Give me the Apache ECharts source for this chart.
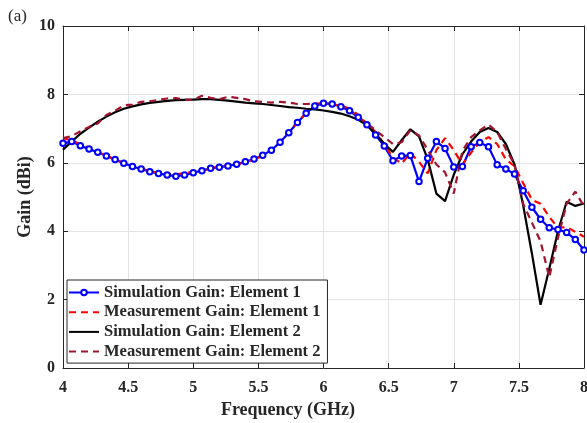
<!DOCTYPE html>
<html>
<head>
<meta charset="utf-8">
<script src="https://cdn.jsdelivr.net/npm/echarts@6/dist/echarts.min.js"></script>
<style>
  html, body { margin: 0; padding: 0; background: #fff; }
  #chart { width: 587px; height: 423px; }
</style>
</head>
<body>
<div id="chart"></div>
<script>
// Frequency grid: 4 to 8 GHz, 61 samples
const freqStart = 4;
const freqStep = 4 / 60;

// Gain (dBi) for each sample
const simElement1 = [6.57, 6.62, 6.50, 6.40, 6.31, 6.20, 6.10, 5.99, 5.89, 5.82,
  5.74, 5.69, 5.64, 5.61, 5.64, 5.71, 5.77, 5.84, 5.87, 5.91,
  5.96, 6.03, 6.11, 6.22, 6.37, 6.60, 6.88, 7.18, 7.45, 7.66,
  7.74, 7.72, 7.64, 7.52, 7.33, 7.11, 6.81, 6.49, 6.06, 6.20,
  6.21, 5.45, 6.13, 6.62, 6.42, 5.88, 5.89, 6.47, 6.59, 6.47,
  5.94, 5.82, 5.67, 5.18, 4.70, 4.35, 4.10, 4.05, 3.96, 3.76, 3.45];

const measElement1 = [6.72, 6.65, 6.55, 6.42, 6.30, 6.22, 6.08, 6.00, 5.88, 5.85,
  5.74, 5.72, 5.68, 5.66, 5.70, 5.73, 5.75, 5.85, 5.88, 5.93,
  5.95, 6.02, 6.10, 6.20, 6.40, 6.62, 6.90, 7.20, 7.45, 7.65,
  7.75, 7.70, 7.68, 7.58, 7.40, 7.15, 6.90, 6.55, 6.15, 5.98,
  6.28, 6.03, 5.69, 6.37, 6.72, 6.37, 5.95, 6.30, 6.60, 6.75,
  6.55, 6.10, 5.90, 5.40, 4.92, 4.80, 4.42, 4.10, 4.12, 3.98, 3.84];

const simElement2 = [6.38, 6.62, 6.85, 7.03, 7.20, 7.35, 7.48, 7.58, 7.65, 7.71,
  7.75, 7.78, 7.81, 7.83, 7.84, 7.85, 7.86, 7.86, 7.84, 7.82,
  7.79, 7.76, 7.74, 7.72, 7.69, 7.66, 7.63, 7.61, 7.58, 7.56,
  7.53, 7.49, 7.44, 7.36, 7.26, 7.10, 6.85, 6.55, 6.32, 6.66,
  6.98, 6.77, 6.10, 5.10, 4.88, 5.65, 6.25, 6.62, 6.90, 7.02,
  6.90, 6.55, 5.95, 4.75, 3.35, 1.85, 2.90, 4.00, 4.86, 4.74, 4.81];

const measElement2 = [6.72, 6.78, 6.92, 7.05, 7.15, 7.40, 7.52, 7.68, 7.70, 7.78,
  7.80, 7.84, 7.88, 7.89, 7.85, 7.84, 7.96, 7.90, 7.86, 7.93,
  7.90, 7.86, 7.80, 7.78, 7.76, 7.78, 7.76, 7.72, 7.72, 7.73,
  7.74, 7.72, 7.68, 7.55, 7.35, 7.15, 6.95, 6.75, 6.55, 6.60,
  6.95, 6.80, 6.38, 5.95, 5.72, 5.10, 6.35, 6.75, 6.95, 7.12,
  6.90, 6.40, 5.95, 4.80, 4.25, 3.70, 2.65, 3.80, 4.80, 5.16, 4.72];

// Axis ticks
const xTicks = [4, 4.5, 5, 5.5, 6, 6.5, 7, 7.5, 8];
const yTicks = [0, 2, 4, 6, 8, 10];

const seriesNames = [
  'Simulation Gain: Element 1',
  'Measurement Gain: Element 1',
  'Simulation Gain: Element 2',
  'Measurement Gain: Element 2'
];

function pairs(values) {
  return values.map((v, i) => [freqStart + i * freqStep, v]);
}

const serif = '"Liberation Serif", "DejaVu Serif", serif';
const ink = '#262626';

const chart = echarts.init(document.getElementById('chart'), null, { renderer: 'canvas' });

const xBase = {
  type: 'value', min: xTicks[0], max: xTicks[xTicks.length - 1], interval: 0.5,
  axisLine: { show: true, onZero: false, lineStyle: { color: ink, width: 1 } },
  axisTick: { show: true, inside: true, length: 5, lineStyle: { color: ink } }
};
const yBase = {
  type: 'value', min: yTicks[0], max: yTicks[yTicks.length - 1], interval: 2,
  axisLine: { show: true, onZero: false, lineStyle: { color: ink, width: 1 } },
  axisTick: { show: true, inside: true, length: 5, lineStyle: { color: ink } }
};

chart.setOption({
  animation: false,
  backgroundColor: '#ffffff',
  grid: { left: 63, right: 3, top: 26, bottom: 55, containLabel: false, outerBoundsMode: 'none' },
  xAxis: [
    Object.assign({}, xBase, {
      position: 'bottom',
      splitLine: { show: true, lineStyle: { color: '#e3e3e3', width: 1 } },
      axisLabel: {
        margin: 12, color: ink, fontFamily: serif, fontWeight: 'bold', fontSize: 16,
        formatter: v => (xTicks.includes(v) ? String(v) : '')
      }
    }),
    Object.assign({}, xBase, {
      position: 'top', splitLine: { show: false }, axisLabel: { show: false }
    })
  ],
  yAxis: [
    Object.assign({}, yBase, {
      position: 'left',
      splitLine: { show: true, lineStyle: { color: '#e3e3e3', width: 1 } },
      axisLabel: {
        margin: 8, color: ink, fontFamily: serif, fontWeight: 'bold', fontSize: 16,
        formatter: v => (yTicks.includes(v) ? String(v) : '')
      }
    }),
    Object.assign({}, yBase, {
      position: 'right', splitLine: { show: false }, axisLabel: { show: false }
    })
  ],
  legend: {
    orient: 'vertical',
    left: 67, top: 280,
    padding: [4, 7, 3, 1],
    itemWidth: 30, itemHeight: 7, itemGap: 2.7,
    backgroundColor: '#ffffff',
    borderColor: ink, borderWidth: 1,
    textStyle: { color: ink, fontFamily: serif, fontWeight: 'bold', fontSize: 16.5 },
    data: [
      { name: seriesNames[0] },
      { name: seriesNames[1], itemStyle: { opacity: 0 } },
      { name: seriesNames[2], itemStyle: { opacity: 0 } },
      { name: seriesNames[3], itemStyle: { opacity: 0 } }
    ]
  },
  graphic: [
    {
      type: 'text', left: 8, top: 8,
      style: { text: '(a)', font: '17px ' + serif, fill: ink }
    },
    {
      type: 'text', x: 288, y: 410,
      style: {
        text: 'Frequency (GHz)', font: 'bold 18px ' + serif, fill: ink,
        align: 'center', verticalAlign: 'middle'
      }
    },
    {
      type: 'text', x: 25, y: 197, rotation: Math.PI / 2,
      style: {
        text: 'Gain (dBi)', font: 'bold 18px ' + serif, fill: ink,
        align: 'center', verticalAlign: 'middle'
      }
    }
  ],
  series: [
    {
      name: seriesNames[0], type: 'line', data: pairs(simElement1),
      color: '#0000ff',
      lineStyle: { color: '#0000ff', width: 2.2 },
      symbol: 'emptyCircle', symbolSize: 5.5, showSymbol: true,
      itemStyle: { color: '#0000ff', borderWidth: 1.8, borderColor: '#0000ff' }
    },
    {
      name: seriesNames[1], type: 'line', data: pairs(measElement1),
      color: '#ff0000',
      lineStyle: { color: '#ff0000', width: 2.2, type: [7, 5] },
      symbol: 'none'
    },
    {
      name: seriesNames[2], type: 'line', data: pairs(simElement2),
      color: '#000000',
      lineStyle: { color: '#000000', width: 2.2 },
      symbol: 'none'
    },
    {
      name: seriesNames[3], type: 'line', data: pairs(measElement2),
      color: '#a2142f',
      lineStyle: { color: '#a2142f', width: 2.2, type: [7, 5] },
      symbol: 'none'
    }
  ]
});
</script>
</body>
</html>
